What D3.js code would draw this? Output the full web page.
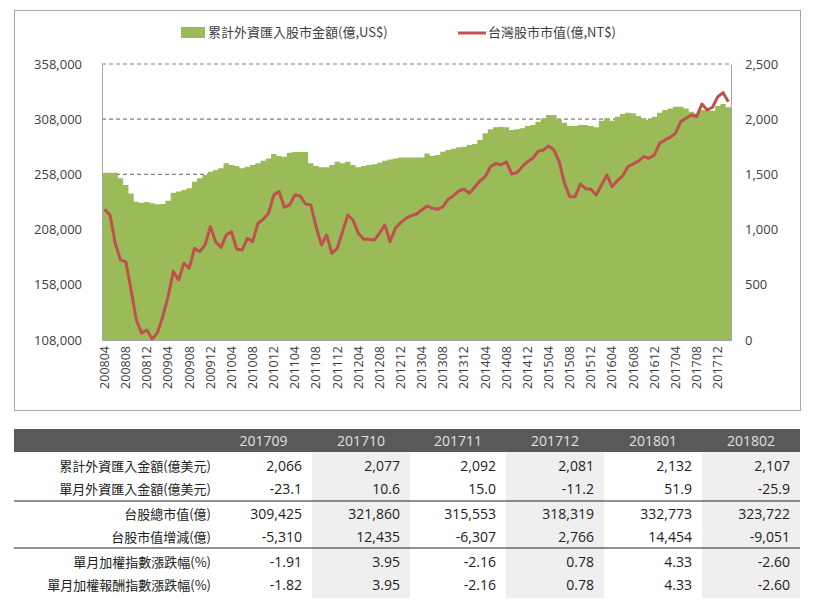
<!DOCTYPE html>
<html><head><meta charset="utf-8">
<script src="https://cdn.jsdelivr.net/npm/d3@7"></script>
<style>body{margin:0;background:#fff;font-family:"Noto Sans CJK TC","Noto Sans",sans-serif;}</style>
</head><body><svg id="c" width="820" height="606"></svg>
<script>
const startYear=2008,startMonth=4,nMonths=119;
const months=d3.range(nMonths).map(i=>{const m=startMonth-1+i;return String(startYear+Math.floor(m/12))+String(m%12+1).padStart(2,"0");});
const marketCap=[259.5,259.5,259.5,254.4,248.4,240.8,233.3,232.4,233,231.8,230.9,231.2,234.2,241.4,242.6,243.8,245.4,251.4,254.4,257.4,260.5,262,263.5,268,266.5,265.6,263.5,265,266.5,268,270.4,272.5,276.5,274.7,274,277.7,278.3,278.3,278.3,268,265.6,264.4,264.4,266.5,269.5,268,269.5,266.5,264.4,265.6,266.5,267.1,268.6,270.4,271.6,272.5,273.4,273.4,273.4,273.4,273.4,277,274.6,275.5,278.6,280,281.3,282.5,283.1,284.6,285.5,289.2,295.2,298.8,300.6,301.2,300.6,298.2,298.8,299.7,301.8,302.7,305.8,308.8,311.8,311.8,307.9,304.8,301.8,301.8,302.7,302.7,301.8,300.6,306.7,308.8,306.7,310.3,312.7,313.9,313.3,310.9,308.8,307.3,310.3,313.9,316.3,317.8,319.3,319.3,317.8,314.8,313.3,316.3,316.3,315.7,319.9,321.8,318.8].map(v=>v*1000);
const foreignCum=[1184,1132,876,725,710,453,181,61,91,6,67,212,393,620,544,695,649,830,800,861,1027,891,837,951,981,821,815,921,891,1057,1093,1147,1314,1344,1202,1223,1314,1304,1232,1223,1027,861,951,785,830,981,1132,1087,966,912,912,906,966,1042,891,1012,1063,1102,1126,1141,1178,1214,1193,1184,1208,1274,1307,1350,1365,1329,1383,1440,1480,1570,1600,1585,1615,1504,1516,1570,1615,1646,1709,1721,1757,1721,1615,1419,1298,1298,1413,1371,1365,1314,1404,1495,1389,1443,1486,1570,1594,1621,1661,1646,1676,1781,1812,1836,1872,1978,2008,2038,2023,2138,2083,2108,2204,2240,2159];
const leftTicks=[108000,158000,208000,258000,308000,358000];
const rightTicks=[0,500,1000,1500,2000,2500];
const legendLabels=["累計外資匯入股市金額(億,US$)","台灣股市市值(億,NT$)"];
const tableCols=["201709","201710","201711","201712","201801","201802"];
const rowLabels=["累計外資匯入金額(億美元)","單月外資匯入金額(億美元)","台股總市值(億)","台股市值增減(億)","單月加權指數漲跌幅(%)","單月加權報酬指數漲跌幅(%)"];
const rowValues=[
["2,066","2,077","2,092","2,081","2,132","2,107"],
["-23.1","10.6","15.0","-11.2","51.9","-25.9"],
["309,425","321,860","315,553","318,319","332,773","323,722"],
["-5,310","12,435","-6,307","2,766","14,454","-9,051"],
["-1.91","3.95","-2.16","0.78","4.33","-2.60"],
["-1.82","3.95","-2.16","0.78","4.33","-2.60"]];

const svg=d3.select("#c");
svg.append("rect").attr("x",14.5).attr("y",10.5).attr("width",786).attr("height",400).attr("fill","#fff").attr("stroke","#a6a6a6");
const L=102,R=731,T=64,B=340;
const x=d3.scaleBand().domain(months).range([L,R]).padding(0);
const yL=d3.scaleLinear().domain([108000,358000]).range([B,T]);
const yR=d3.scaleLinear().domain([0,2500]).range([B,T]);
const g=svg.append("g");
// grid
g.selectAll(".grid").data(leftTicks.slice(1)).join("line").attr("x1",L).attr("x2",R)
 .attr("y1",d=>yL(d)).attr("y2",d=>yL(d)).attr("stroke","#7f7f7f").attr("stroke-dasharray","4,3").attr("stroke-width",1.2);
// stepped area
const area=d3.area().curve(d3.curveStep).x(d=>d.x).y0(B).y1(d=>d.y);
const pts=[];
marketCap.forEach((v,i)=>{pts.push({x:x(months[i]),y:yL(v)});pts.push({x:x(months[i])+x.bandwidth(),y:yL(v)});});
g.append("path").datum(pts).attr("d",d3.area().x(d=>d.x).y0(B).y1(d=>d.y)).attr("fill","#9bbb59");
// line
g.append("path").datum(foreignCum).attr("fill","none").attr("stroke","#c0504d").attr("stroke-width",3).attr("stroke-linejoin","round")
 .attr("d",d3.line().x((d,i)=>x(months[i])+x.bandwidth()/2).y(d=>yR(d)));
// axes
const ax=svg.append("g").attr("font-size",13).attr("fill","#404040");
const la=svg.append("g").attr("transform",`translate(${L},0)`).call(d3.axisLeft(yL).tickValues(leftTicks).tickFormat(d3.format(",")).tickSize(0).tickPadding(20));
const ra=svg.append("g").attr("transform",`translate(${R},0)`).call(d3.axisRight(yR).tickValues(rightTicks).tickFormat(d3.format(",")).tickSize(0).tickPadding(14));
const ba=svg.append("g").attr("transform",`translate(0,${B})`).call(d3.axisBottom(x).tickValues(months.filter((m,i)=>i%4===0)).tickSize(0));
[la,ra,ba].forEach(a=>{a.select(".domain").attr("stroke","#a6a6a6");a.selectAll("text").attr("font-size",13).attr("fill","#404040").attr("font-family","'Open Sans','DejaVu Sans',sans-serif");});
ba.selectAll("text").attr("transform","rotate(-90)").attr("text-anchor","end").attr("dx","-6").attr("dy","0.35em").attr("y",0).attr("x",0).attr("font-size",12.5);
// legend
const lg=svg.append("g").attr("font-size",13).attr("fill","#404040");
lg.append("rect").attr("x",181).attr("y",27).attr("width",24).attr("height",11).attr("fill","#9bbb59");
lg.append("text").attr("x",208).attr("y",37).text(legendLabels[0]);
lg.append("line").attr("x1",458).attr("x2",486).attr("y1",33).attr("y2",33).attr("stroke","#c0504d").attr("stroke-width",3);
lg.append("text").attr("x",488).attr("y",37).text(legendLabels[1]);
// table
const tx=[14,215,312,410,506,604,702,800];
const tb=svg.append("g");
tb.append("rect").attr("x",14).attr("y",429).attr("width",786).attr("height",23).attr("fill","#595959");
[1,3,5].forEach(c=>tb.append("rect").attr("x",tx[c+1]).attr("y",452).attr("width",tx[c+2]-tx[c+1]).attr("height",146).attr("fill","#efefef"));
tableCols.forEach((c,j)=>tb.append("text").attr("x",(tx[j+1]+tx[j+2])/2).attr("y",446).attr("text-anchor","middle").attr("fill","#e0e0e0").attr("font-size",14).attr("font-family","'Open Sans',sans-serif").text(c));
const ry=[471,494,519,542,567,590];
rowLabels.forEach((l,r)=>{
 tb.append("text").attr("x",211).attr("y",ry[r]).attr("text-anchor","end").attr("font-size",13).attr("fill","#222").text(l);
 rowValues[r].forEach((v,j)=>tb.append("text").attr("x",tx[j+2]-10).attr("y",ry[r]).attr("text-anchor","end").attr("font-size",14).attr("fill","#222").attr("font-family","'Open Sans',sans-serif").text(v));
});
[501,548].forEach(yy=>tb.append("line").attr("x1",14).attr("x2",800).attr("y1",yy).attr("y2",yy).attr("stroke","#222"));
</script></body></html>
